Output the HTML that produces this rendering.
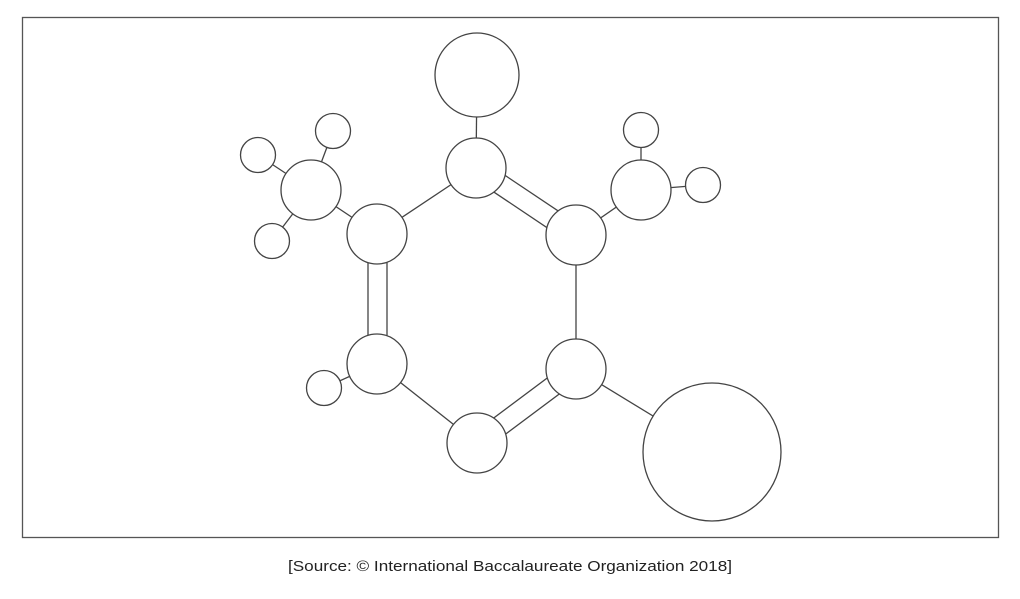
<!DOCTYPE html>
<html><head><meta charset="utf-8"><style>
html,body{margin:0;padding:0;background:#fff;width:1020px;height:599px;overflow:hidden}
svg{display:block}
</style></head><body>
<svg width="1020" height="599" viewBox="0 0 1020 599" xmlns="http://www.w3.org/2000/svg">
<rect x="22.5" y="17.5" width="976" height="520" fill="none" stroke="#555" stroke-width="1.3"/>
<g stroke="#444" stroke-width="1.3" fill="none">
<line x1="477" y1="75" x2="476" y2="168"/>
<line x1="476" y1="168" x2="377" y2="234"/>
<line x1="377" y1="234" x2="311" y2="190"/>
<line x1="311" y1="190" x2="258" y2="155"/>
<line x1="311" y1="190" x2="333" y2="131"/>
<line x1="311" y1="190" x2="272" y2="241"/>
<line x1="576" y1="235" x2="641" y2="190"/>
<line x1="641" y1="190" x2="641" y2="130"/>
<line x1="641" y1="190" x2="703" y2="185"/>
<line x1="576" y1="235" x2="576" y2="369"/>
<line x1="377" y1="364" x2="324" y2="388"/>
<line x1="377" y1="364" x2="477" y2="443"/>
<line x1="576" y1="369" x2="712" y2="452"/>
<!-- double bonds -->
<line x1="368" y1="234" x2="368" y2="364"/>
<line x1="387" y1="234" x2="387" y2="364"/>
<line x1="481.5" y1="159.6" x2="581.5" y2="226.6"/>
<line x1="470.5" y1="176.4" x2="570.5" y2="243.4"/>
<line x1="482.5" y1="451.4" x2="581.5" y2="377.4"/>
<line x1="471.5" y1="434.6" x2="570.5" y2="360.6"/>
</g>
<g stroke="#444" stroke-width="1.3" fill="#fff">
<circle cx="477" cy="75" r="42"/>
<circle cx="476" cy="168" r="30"/>
<circle cx="377" cy="234" r="30"/>
<circle cx="576" cy="235" r="30"/>
<circle cx="311" cy="190" r="30"/>
<circle cx="641" cy="190" r="30"/>
<circle cx="377" cy="364" r="30"/>
<circle cx="576" cy="369" r="30"/>
<circle cx="477" cy="443" r="30"/>
<circle cx="258" cy="155" r="17.5"/>
<circle cx="333" cy="131" r="17.5"/>
<circle cx="272" cy="241" r="17.5"/>
<circle cx="641" cy="130" r="17.5"/>
<circle cx="703" cy="185" r="17.5"/>
<circle cx="324" cy="388" r="17.5"/>
<circle cx="712" cy="452" r="69"/>
</g>
<text x="510" y="571" text-anchor="middle" font-family="Liberation Sans, sans-serif" font-size="15" fill="#222" textLength="444" lengthAdjust="spacingAndGlyphs">[Source: © International Baccalaureate Organization 2018]</text>
</svg>
</body></html>
